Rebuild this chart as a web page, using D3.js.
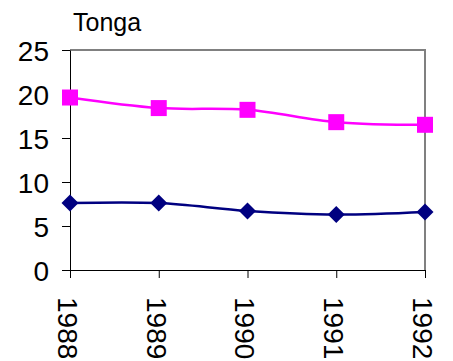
<!DOCTYPE html>
<html>
<head>
<meta charset="utf-8">
<script src="https://cdn.jsdelivr.net/npm/d3@7/dist/d3.min.js"></script>
<style>
  html, body { margin: 0; padding: 0; background: #fff; }
  svg { display: block; font-family: Arial, "Liberation Sans", sans-serif; }
</style>
</head>
<body>
<svg id="chart" width="453" height="361"></svg>
<script>
// Tonga, 1988–1992
const years = ["1988", "1989", "1990", "1991", "1992"];
const seriesUpper = [19.6, 18.4, 18.2, 16.8, 16.5];
const seriesLower = [7.6, 7.6, 6.7, 6.3, 6.6];
const yTicks = [0, 5, 10, 15, 20, 25];
const title = "Tonga";

const svg = d3.select("#chart");
const plotL = 70, plotR = 425, plotT = 50, plotB = 270;

const x = d3.scalePoint().domain(years).range([plotL, plotR]);
const y = d3.scaleLinear().domain([0, 25]).range([plotB, plotT]);

// plot frame: grey top and right edges
svg.append("path")
  .attr("d", `M${plotL},${plotT}H${plotR}V${plotB}`)
  .attr("fill", "none")
  .attr("stroke", "#808080")
  .attr("stroke-width", 2);

// y axis
const yAxis = svg.append("g")
  .attr("transform", `translate(${plotL},0)`)
  .call(d3.axisLeft(y).tickValues(yTicks).tickSize(8).tickPadding(13).tickSizeOuter(0));
yAxis.select(".domain").attr("stroke", "#000");
yAxis.selectAll(".tick line").attr("stroke", "#000");
yAxis.selectAll(".tick text")
  .attr("font-size", 28)
  .attr("font-family", "Arial, 'Liberation Sans', sans-serif")
  .attr("fill", "#000")
  .attr("dy", "0.36em");

// x axis
const xAxis = svg.append("g")
  .attr("transform", `translate(0,${plotB})`)
  .call(d3.axisBottom(x).tickSize(8).tickSizeOuter(0));
xAxis.select(".domain").attr("stroke", "#000");
xAxis.selectAll(".tick line").attr("stroke", "#000");
xAxis.selectAll(".tick text")
  .attr("font-size", 28)
  .attr("font-family", "Arial, 'Liberation Sans', sans-serif")
  .attr("fill", "#000")
  .attr("text-anchor", "start")
  .attr("y", 0)
  .attr("dy", "0.45em")
  .attr("transform", "translate(0,27) rotate(90)");

// series lines
const line = d3.line()
  .x((d, i) => x(years[i]))
  .y(d => y(d))
  .curve(d3.curveCatmullRom.alpha(0.5));

svg.append("path")
  .datum(seriesUpper)
  .attr("d", line)
  .attr("fill", "none")
  .attr("stroke", "#FF00FF")
  .attr("stroke-width", 2.5);

svg.append("path")
  .datum(seriesLower)
  .attr("d", line)
  .attr("fill", "none")
  .attr("stroke", "#000080")
  .attr("stroke-width", 2.5);

// square markers
const sq = 16;
svg.append("g").selectAll("rect")
  .data(seriesUpper)
  .join("rect")
  .attr("x", (d, i) => x(years[i]) - sq / 2)
  .attr("y", d => y(d) - sq / 2)
  .attr("width", sq)
  .attr("height", sq)
  .attr("fill", "#FF00FF");

// diamond markers
const dw = 8.5;
svg.append("g").selectAll("path")
  .data(seriesLower)
  .join("path")
  .attr("d", (d, i) => {
    const cx = x(years[i]), cy = y(d);
    return `M${cx},${cy - dw}L${cx + dw},${cy}L${cx},${cy + dw}L${cx - dw},${cy}Z`;
  })
  .attr("fill", "#000080");

// title
svg.append("text")
  .attr("x", 73)
  .attr("y", 31)
  .attr("font-size", 25)
  .attr("fill", "#000")
  .text(title);
</script>
</body>
</html>
